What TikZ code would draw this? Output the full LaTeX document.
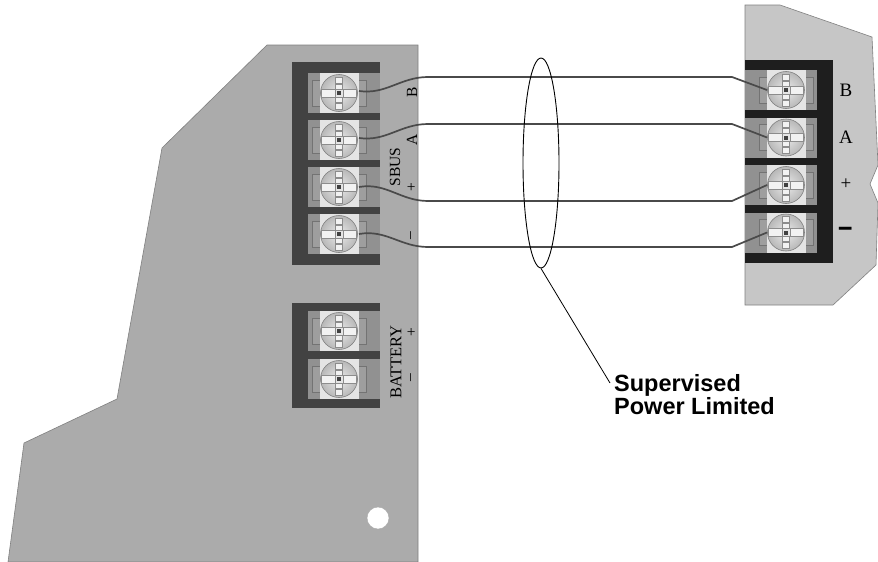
\documentclass[tikz,border=0pt]{standalone}
\usepackage{fontspec}
\setmainfont{Liberation Serif}
\newfontfamily\labelfont{Liberation Sans}
\usetikzlibrary{shapes.geometric}
\definecolor{panelL}{HTML}{ABABAB}
\definecolor{panelR}{HTML}{C6C6C6}
\definecolor{frameL}{HTML}{424242}
\definecolor{frameR}{HTML}{1E1E1E}
\definecolor{cellc}{HTML}{919191}
\definecolor{sqc}{HTML}{E4E4E4}
\definecolor{wirec}{HTML}{4A4A4A}
\tikzset{
  panel/.style={draw=black!50, line width=0.6pt},
  cellbox/.style={fill=cellc},
  wire/.style={draw=wirec, line width=1.7pt},
  termlbl/.style={inner sep=0pt, font=\fontsize{15.5}{15.5}\selectfont},
  termlblR/.style={inner sep=0pt, font=\fontsize{19}{19}\selectfont},
  screw/.pic={
    \draw[fill=black!38, draw=black!55, line width=0.5pt] (-27,-13) rectangle (-19,13);
    \draw[fill=black!38, draw=black!55, line width=0.5pt] (19,-13) rectangle (27,13);
    \fill[sqc] (-19.5,-20) rectangle (19.5,20);
    \draw[draw=black!50, line width=0.6pt, inner color=black!8, outer color=black!28] (0,0) circle (18.5);
    \draw[fill=black!5, draw=black!45, line width=0.4pt] (-17.5,-4) rectangle (17.5,4);
    \foreach \ya/\yb in {-16/-10,-9/-4,4/9,10/16}
      \draw[fill=black!5, draw=black!45, line width=0.4pt] (-3.5,\ya) rectangle (3.5,\yb);
    \draw[fill=black!10, draw=black!45, line width=0.4pt] (-4,-4) rectangle (4,4);
    \fill[black!75] (-2,-2) rectangle (2,2);
  }
}
\begin{document}
\begin{tikzpicture}[x=1pt,y=-1pt]
\useasboundingbox (0,0) rectangle (878,562);
\fill[white] (0,0) rectangle (878,562);

% panels
\draw[panel, fill=panelL] (267,45) -- (418,45) -- (418,562) -- (8,562) -- (24,443) -- (117,399) -- (162,148) -- cycle;
\draw[panel, fill=panelR] (745,5) -- (780,5) -- (872,37) -- (878,165) -- (870,184) -- (878,203) -- (876,265) -- (833,305) -- (745,305) -- cycle;
\draw[fill=white, draw=black!35, line width=0.4pt] (378,518) circle (11);

% left SBUS block
\fill[frameL] (292,62) rectangle (380,265);
\foreach \y [count=\i] in {93,140,187,234}{
  \fill[cellbox] (308,\y-20) rectangle (380,\y+20);
  \coordinate (L\i) at (339,\y);
  \pic at (L\i) {screw};
}
% battery block
\fill[frameL] (292,303) rectangle (380,408);
\foreach \y [count=\i] in {331,379}{
  \fill[cellbox] (308,\y-20) rectangle (380,\y+20);
  \coordinate (P\i) at (339,\y);
  \pic at (P\i) {screw};
}
% right block
\fill[frameR] (745,60) rectangle (833,263);
\foreach \y [count=\i] in {90,137.5,185,232.5}{
  \fill[cellbox] (745,\y-20) rectangle (817,\y+20);
  \coordinate (R\i) at (786,\y);
  \pic at (R\i) {screw};
}

% left labels
\node[termlbl, rotate=90] (lB) at (412,92) {B};
\node[termlbl, rotate=90] (lA) at (412,140) {A};
\node[termlbl, rotate=90] (lP) at (412,187) {+};
\node[termlbl, rotate=90] (lM) at (412,236) {–};
\node[termlbl, rotate=90] (sbus) at (395,167) {SBUS};
\node[termlbl, rotate=90, font=\fontsize{16.5}{16.5}\selectfont] (batt) at (396,362) {BATTERY};
\node[termlbl, rotate=90] (bP) at (412,332) {+};
\node[termlbl, rotate=90] (bM) at (412,378) {–};

% right labels
\node[termlblR] (rB) at (846,90) {B};
\node[termlblR] (rA) at (846,137) {A};
\node[termlblR] (rP) at (846,184) {+};
\node[termlblR] (rM) at (846,233) {\scalebox{1.3}[2.2]{\textbf{–}}};

% wires
\draw[wire] ([shift={(20,-2)}]L1) to[out=-8,in=180] (428,77) -- (732,77) -- ([shift={(-19,0)}]R1);
\draw[wire] ([shift={(20,-2)}]L2) to[out=-8,in=180] (428,124) -- (732,124) -- ([shift={(-19,0)}]R2);
\draw[wire] ([shift={(20,0)}]L3) to[out=10,in=180] (428,201) -- (732,201) -- ([shift={(-19,0)}]R3);
\draw[wire] ([shift={(20,0)}]L4) to[out=10,in=180] (428,247) -- (732,247) -- ([shift={(-19,0)}]R4);

% cable ellipse and label
\node[ellipse, draw, line width=0.9pt, minimum width=36pt, minimum height=210pt, inner sep=0pt] (cable) at (541,163) {};
\node[anchor=north west, inner sep=0pt, align=left, font=\labelfont\bfseries\fontsize{23.5}{23}\selectfont] (lbl) at (614,374.5) {Supervised\\Power Limited};
\coordinate (tip) at (610,383);
\draw[line width=0.8pt] (cable.south) -- (tip);
\end{tikzpicture}
\end{document}
